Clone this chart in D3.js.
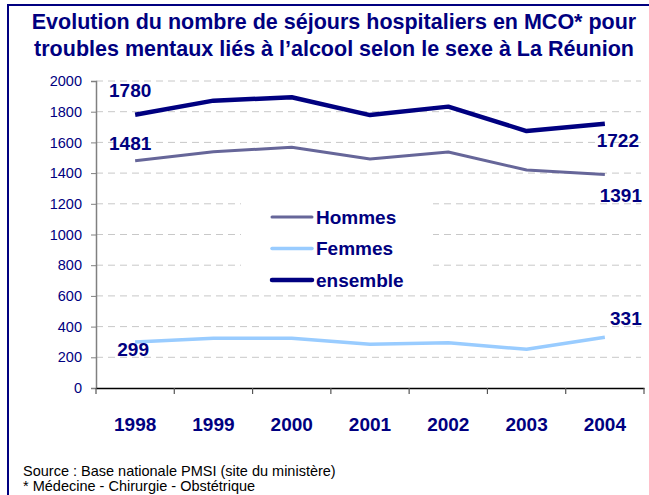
<!DOCTYPE html>
<html>
<head>
<meta charset="utf-8">
<script src="https://cdn.jsdelivr.net/npm/d3@7"></script>
<style>
  body { margin: 0; background: #fff; }
  svg { display: block; font-family: "Liberation Sans", Arial, sans-serif; }
</style>
</head>
<body>
<div id="chart"></div>
<script>
// data
var years = ["1998", "1999", "2000", "2001", "2002", "2003", "2004"];
var hommes = [1481, 1539, 1568, 1492, 1537, 1420, 1391];
var femmes = [299, 324, 324, 285, 295, 252, 331];
var ensemble = [1780, 1872, 1894, 1778, 1833, 1674, 1722];
var yTicks = [0, 200, 400, 600, 800, 1000, 1200, 1400, 1600, 1800, 2000];

var titleLines = ["Evolution du nombre de séjours hospitaliers en MCO* pour",
                  "troubles mentaux liés à l\u2019alcool selon le sexe à La Réunion"];
var footLines = ["Source : Base nationale PMSI (site du ministère)",
                 "* Médecine - Chirurgie - Obstétrique"];

var series = [
  {name: "Hommes", values: hommes, color: "#666699", width: 3},
  {name: "Femmes", values: femmes, color: "#99ccff", width: 3.5},
  {name: "ensemble", values: ensemble, color: "#000080", width: 4.5}
];

var width = 649, height = 495;
var navy = "#000080";

var svg = d3.select("#chart").append("svg")
    .attr("width", width)
    .attr("height", height);

svg.append("rect")
    .attr("width", width).attr("height", height)
    .attr("fill", "#fff");

// frame (right and bottom edges fall outside the picture)
svg.append("rect")
    .attr("x", 8).attr("y", 5)
    .attr("width", 700).attr("height", 600)
    .attr("fill", "none")
    .attr("stroke", navy)
    .attr("stroke-width", 2);

svg.selectAll(".title")
    .data(titleLines)
    .enter().append("text")
    .attr("class", "title")
    .attr("x", 334)
    .attr("y", function(d, i) { return 29 + i * 27; })
    .attr("text-anchor", "middle")
    .attr("font-size", "21.5px")
    .attr("font-weight", "bold")
    .attr("fill", navy)
    .text(function(d) { return d; });

var x = d3.scaleBand().domain(years).range([96, 644]);
var y = d3.scaleLinear().domain([0, 2000]).range([388, 81]);
function cx(i) { return x(years[i]) + x.bandwidth() / 2; }

// gridlines
svg.append("g")
  .selectAll("line")
  .data(yTicks.filter(function(d) { return d > 0; }))
  .enter().append("line")
    .attr("x1", 96).attr("x2", 641)
    .attr("y1", function(d) { return y(d); })
    .attr("y2", function(d) { return y(d); })
    .attr("stroke", "#c8c8c8")
    .attr("stroke-width", 1)
    .attr("stroke-dasharray", "7,5");

// y axis
var yAxis = svg.append("g")
    .attr("transform", "translate(96,0)")
    .call(d3.axisLeft(y).tickValues(yTicks).tickSize(5).tickPadding(9).tickFormat(d3.format("d")));
yAxis.select(".domain").attr("stroke", "#808080").attr("stroke-width", 1.5);
yAxis.selectAll(".tick line").attr("stroke", "#808080");
yAxis.selectAll(".tick text")
    .attr("fill", navy)
    .attr("font-size", "14.5px")
    .attr("font-family", "Liberation Sans, Arial, sans-serif");

// x axis
var xAxis = svg.append("g")
    .attr("transform", "translate(0,388)")
    .call(d3.axisBottom(x).tickSize(0).tickPadding(30));
xAxis.select(".domain").attr("stroke", "#000").attr("stroke-width", 1.5);
xAxis.selectAll(".tick text")
    .attr("fill", navy)
    .attr("font-size", "19px")
    .attr("font-weight", "bold")
    .attr("font-family", "Liberation Sans, Arial, sans-serif");
xAxis.selectAll(".sep")
    .data(years.concat(["end"]))
    .enter().append("line")
    .attr("class", "sep")
    .attr("x1", function(d, i) { return 96 + i * x.bandwidth(); })
    .attr("x2", function(d, i) { return 96 + i * x.bandwidth(); })
    .attr("y1", 0).attr("y2", 6)
    .attr("stroke", "#555").attr("stroke-width", 1.2);

// lines
var line = d3.line()
    .x(function(d, i) { return cx(i); })
    .y(function(d) { return y(d); });

svg.append("g")
  .selectAll("path")
  .data(series)
  .enter().append("path")
    .attr("d", function(s) { return line(s.values); })
    .attr("fill", "none")
    .attr("stroke", function(s) { return s.color; })
    .attr("stroke-width", function(s) { return s.width; })
    .attr("stroke-linejoin", "round");

// value labels at first and last year
var labels = [
  {s: 2, i: 0, dx: -5, dy: -18}, {s: 0, i: 0, dx: -5, dy: -11}, {s: 1, i: 0, dx: -2, dy: 14},
  {s: 2, i: 6, dx: 13, dy: 23}, {s: 0, i: 6, dx: 16, dy: 28}, {s: 1, i: 6, dx: 21, dy: -12}
];
svg.append("g")
  .selectAll("text")
  .data(labels)
  .enter().append("text")
    .attr("x", function(d) { return cx(d.i) + d.dx; })
    .attr("y", function(d) { return y(series[d.s].values[d.i]) + d.dy; })
    .attr("text-anchor", "middle")
    .attr("font-size", "19px")
    .attr("font-weight", "bold")
    .attr("fill", navy)
    .text(function(d) { return series[d.s].values[d.i]; });

// legend
var legend = svg.append("g");
legend.append("rect")
    .attr("x", 241).attr("y", 186)
    .attr("width", 192).attr("height", 104)
    .attr("fill", "#fff");
var item = legend.selectAll(".item")
    .data(series)
    .enter().append("g")
    .attr("class", "item")
    .attr("transform", function(d, i) { return "translate(272," + (217 + i * 31.5) + ")"; });
item.append("line")
    .attr("x1", 0).attr("x2", 40)
    .attr("stroke", function(d) { return d.color; })
    .attr("stroke-width", function(d) { return d.width; })
    .attr("stroke-linecap", "round");
item.append("text")
    .attr("x", 44).attr("y", 6.5)
    .attr("font-size", "19px")
    .attr("font-weight", "bold")
    .attr("fill", navy)
    .text(function(d) { return d.name; });

// source
svg.selectAll(".foot")
    .data(footLines)
    .enter().append("text")
    .attr("class", "foot")
    .attr("x", 23)
    .attr("y", function(d, i) { return 476 + i * 15; })
    .attr("font-size", "14.5px")
    .attr("fill", "#000")
    .text(function(d) { return d; });
</script>
</body>
</html>
